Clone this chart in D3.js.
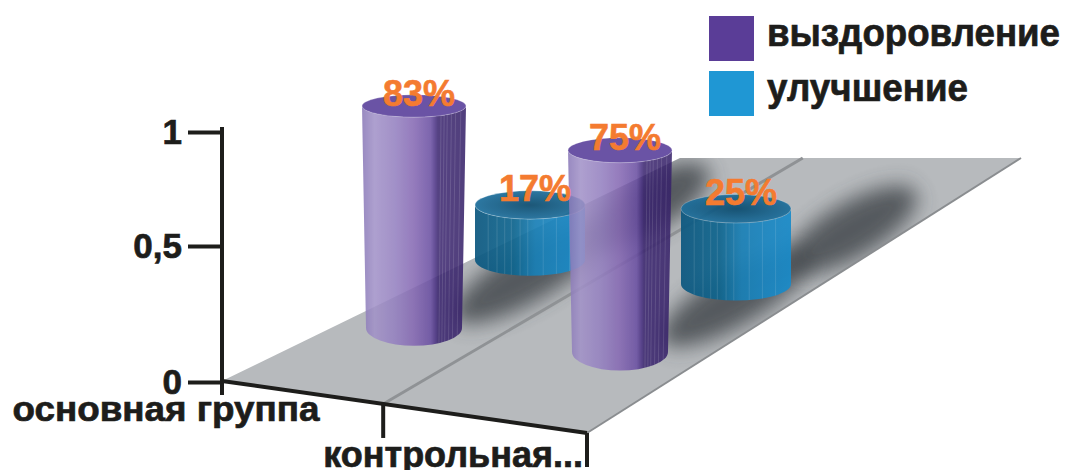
<!DOCTYPE html>
<html>
<head>
<meta charset="utf-8">
<title>3D cylinders</title>
<script src="https://cdn.jsdelivr.net/npm/d3@7"></script>
<style>
  body { margin: 0; background: #fff; }
  text { font-family: "Liberation Sans", Arial, sans-serif; font-weight: bold; }
  .heavy { stroke: #1d1d1b; stroke-width: 0.7px; }
</style>
</head>
<body>
<script>
// data
var categories = ["основная группа", "контрольная..."];
var seriesNames = ["выздоровление", "улучшение"];
var recovery = [0.83, 0.75];
var improvement = [0.17, 0.25];
var tickValues = [0, 0.5, 1];
var tickLabels = ["0", "0,5", "1"];
var seriesColors = ["#5a3d97", "#1f97d4"];

var w = 1066, h = 470;
var svg = d3.select("body").append("svg").attr("width", w).attr("height", h);
var defs = svg.append("defs");

// scales
var y = d3.scaleLinear().domain([0, 0.5, 1]).range([382, 246, 132]);
var hScale = d3.scaleLinear().domain([0, 1]).range([12, 265]);   // cylinder height, px
var uScale = d3.scalePoint().domain(categories).range([0, 1]);   // along the front
var vScale = d3.scalePoint().domain(seriesNames).range([0, 1]);  // into depth
var divideU = 0.4;

var origin = [414, 328], eu = [206, 24], ev = [116, -68];
function floorPt(u, v) {
  return [origin[0] + eu[0] * u + ev[0] * v, origin[1] + eu[1] * u + ev[1] * v];
}
function ryAt(yy) { return 8 + 0.03 * yy; }

var floor = [[222, 381], [587, 433], [1021, 158], [680, 158]];

// gradients
function linGrad(id, stops) {
  var g = defs.append("linearGradient").attr("id", id)
    .attr("x1", 0).attr("x2", 1).attr("y1", 0).attr("y2", 0);
  stops.forEach(function(s) { g.append("stop").attr("offset", s[0]).attr("stop-color", s[1]); });
}
linGrad("sidePurple", [[0, "#8a79b8"], [0.12, "#a292c8"], [0.32, "#9480c0"], [0.5, "#8568b3"],
  [0.66, "#6a4fa2"], [0.71, "#483081"], [0.73, "#3c2770"], [1, "#38236a"]]);
linGrad("sideBlue", [[0, "#0d5880"], [0.35, "#10668f"], [0.55, "#1a80b6"], [0.78, "#1b87c2"], [1, "#1a8bc9"]]);
var rg = defs.append("radialGradient").attr("id", "topBlue");
rg.append("stop").attr("offset", 0).attr("stop-color", "#0c4b6e");
rg.append("stop").attr("offset", 1).attr("stop-color", "#1d6e9b");

defs.append("filter").attr("id", "blur").attr("x", "-50%").attr("y", "-50%")
  .attr("width", "200%").attr("height", "200%")
  .append("feGaussianBlur").attr("stdDeviation", 10);
defs.append("clipPath").attr("id", "floorClip")
  .append("polygon").attr("points", floor.map(function(p) { return p.join(","); }).join(" "));

// floor
svg.append("polygon")
  .attr("points", floor.map(function(p) { return p.join(","); }).join(" "))
  .attr("fill", "#b7babd");

// cylinders data
var cyl = [];
categories.forEach(function(c, i) {
  cyl.push({ cat: c, s: 0, value: recovery[i] });
  cyl.push({ cat: c, s: 1, value: improvement[i] });
});
cyl.forEach(function(d) {
  var b = floorPt(uScale(d.cat), vScale(seriesNames[d.s]));
  d.cx = b[0];
  d.yB = b[1];
  d.yT = b[1] - hScale(d.value);
  d.rxT = d.s === 0 ? 52 : 55;
  d.rxB = d.s === 0 ? 48 : 55;
  d.ryT = ryAt(d.yT);
  d.ryB = ryAt(d.yB);
});

// shadows
var ang = Math.atan2(ev[1], ev[0]) * 180 / Math.PI;
svg.append("g").attr("clip-path", "url(#floorClip)")
  .selectAll("ellipse").data(cyl).enter().append("ellipse")
  .attr("transform", function(d) {
    var c = [d.cx + ev[0] * 1.0, d.yB + ev[1] * 0.8];
    return "translate(" + c + ") rotate(" + ang + ")";
  })
  .attr("rx", function(d) { return 68 + 24 * d.value; })
  .attr("ry", 27)
  .attr("fill", "#3e4246")
  .attr("opacity", 0.8)
  .attr("filter", "url(#blur)");

// category divider
function edgeHit(p0, p1) {
  // intersection of divider line with segment p0-p1
  var a = floorPt(divideU, 0);
  var dx = p1[0] - p0[0], dy = p1[1] - p0[1];
  var den = ev[0] * dy - ev[1] * dx;
  var t = ((p0[0] - a[0]) * dy - (p0[1] - a[1]) * dx) / den;
  return [a[0] + ev[0] * t, a[1] + ev[1] * t];
}
var dFront = edgeHit(floor[0], floor[1]);
var dBack = edgeHit(floor[3], floor[2]);
svg.append("line")
  .attr("x1", dFront[0]).attr("y1", dFront[1]).attr("x2", dBack[0]).attr("y2", dBack[1])
  .attr("stroke", "#8f9295").attr("stroke-width", 3);

// floor edges
svg.append("line")
  .attr("x1", floor[1][0]).attr("y1", floor[1][1]).attr("x2", floor[2][0]).attr("y2", floor[2][1])
  .attr("stroke", "#8a8d90").attr("stroke-width", 2);
svg.append("line")
  .attr("x1", floor[0][0]).attr("y1", floor[0][1]).attr("x2", floor[1][0]).attr("y2", floor[1][1])
  .attr("stroke", "#1d1d1b").attr("stroke-width", 4);

// x ticks
[dFront, floor[1]].forEach(function(p) {
  svg.append("line")
    .attr("x1", p[0]).attr("y1", p[1]).attr("x2", p[0]).attr("y2", p[1] + 34)
    .attr("stroke", "#1d1d1b").attr("stroke-width", 4);
});

// y axis
var yAxis = d3.axisLeft(y).tickValues(tickValues).tickSize(34).tickPadding(6)
  .tickFormat(function(d, i) { return tickLabels[i]; });
var ax = svg.append("g").attr("transform", "translate(222,0)").call(yAxis);
ax.select(".domain").remove();
ax.selectAll(".tick line").attr("stroke", "#1d1d1b").attr("stroke-width", 4);
ax.selectAll(".tick text").attr("fill", "#1d1d1b").attr("class", "heavy")
  .style("font-size", "35px").style("font-family", "'Liberation Sans', Arial, sans-serif")
  .style("font-weight", "bold");
svg.append("line").attr("x1", 222).attr("x2", 222).attr("y1", 127).attr("y2", 395)
  .attr("stroke", "#1d1d1b").attr("stroke-width", 4);

// category labels
svg.append("text").attr("class", "heavy").attr("x", 166).attr("y", 421).attr("text-anchor", "middle")
  .attr("font-size", 35).attr("fill", "#1d1d1b")
  .attr("textLength", 307).attr("lengthAdjust", "spacingAndGlyphs")
  .text(categories[0]);
svg.append("text").attr("class", "heavy").attr("x", 583).attr("y", 467).attr("text-anchor", "end")
  .attr("font-size", 36).attr("fill", "#1d1d1b")
  .text(categories[1]);

// cylinders, back to front
var order = cyl.slice().sort(function(a, b) { return b.s - a.s || a.cx - b.cx; });
var streaks = [[0.76, 0.79, 0.82, 0.86, 0.9, 0.95], [0.12, 0.2, 0.27, 0.33, 0.41, 0.48, 0.62, 0.74, 0.86]];

var cg = svg.selectAll("g.cyl").data(order).enter().append("g").attr("class", "cyl")
  .attr("opacity", function(d) { return d.s === 0 ? 0.87 : 0.93; });

cg.append("path")
  .attr("d", function(d) {
    return "M" + (d.cx - d.rxT) + "," + d.yT +
      "L" + (d.cx - d.rxB) + "," + d.yB +
      "A" + d.rxB + "," + d.ryB + " 0 0 0 " + (d.cx + d.rxB) + "," + d.yB +
      "L" + (d.cx + d.rxT) + "," + d.yT +
      "A" + d.rxT + "," + d.ryT + " 0 0 1 " + (d.cx - d.rxT) + "," + d.yT + "Z";
  })
  .attr("fill", function(d) { return d.s === 0 ? "url(#sidePurple)" : "url(#sideBlue)"; });

cg.each(function(d) {
  var g = d3.select(this);
  streaks[d.s].forEach(function(f) {
    var k = f * 2 - 1;
    var yt = d.yT + d.ryT * Math.sqrt(1 - k * k);
    var yb = d.yB + d.ryB * Math.sqrt(1 - k * k);
    g.append("line")
      .attr("x1", d.cx + k * d.rxT).attr("y1", yt)
      .attr("x2", d.cx + k * d.rxB).attr("y2", yb)
      .attr("stroke", "#ffffff").attr("stroke-opacity", 0.13).attr("stroke-width", 1);
  });
});

cg.append("ellipse")
  .attr("cx", function(d) { return d.cx; })
  .attr("cy", function(d) { return d.yT; })
  .attr("rx", function(d) { return d.rxT; })
  .attr("ry", function(d) { return d.ryT; })
  .attr("fill", function(d) { return d.s === 0 ? "#553a98" : "url(#topBlue)"; })
  .attr("stroke", "#ffffff").attr("stroke-opacity", 0.25).attr("stroke-width", 1);

// value labels
svg.selectAll("text.val").data(cyl).enter().append("text").attr("class", "val")
  .attr("x", function(d) { return d.cx + 5; })
  .attr("y", function(d) { return d.yT - (d.s === 1 ? 4 : 0); })
  .attr("text-anchor", "middle")
  .attr("font-size", 36)
  .attr("fill", "#f47b30")
  .attr("stroke", "#f47b30").attr("stroke-width", 0.6)
  .text(function(d) { return Math.round(d.value * 100) + "%"; });

// legend
var lg = svg.selectAll("g.leg").data(seriesNames).enter().append("g").attr("class", "leg")
  .attr("transform", function(d, i) { return "translate(709," + (16 + i * 55) + ")"; });
lg.append("rect").attr("width", 45).attr("height", 45)
  .attr("fill", function(d, i) { return seriesColors[i]; });
lg.append("text").attr("class", "heavy").attr("x", 58).attr("y", 30)
  .attr("font-size", 39).attr("fill", "#1d1d1b")
  .attr("textLength", function(d, i) { return i === 0 ? 293 : 201; })
  .attr("lengthAdjust", "spacingAndGlyphs")
  .text(function(d) { return d; });
</script>
</body>
</html>
